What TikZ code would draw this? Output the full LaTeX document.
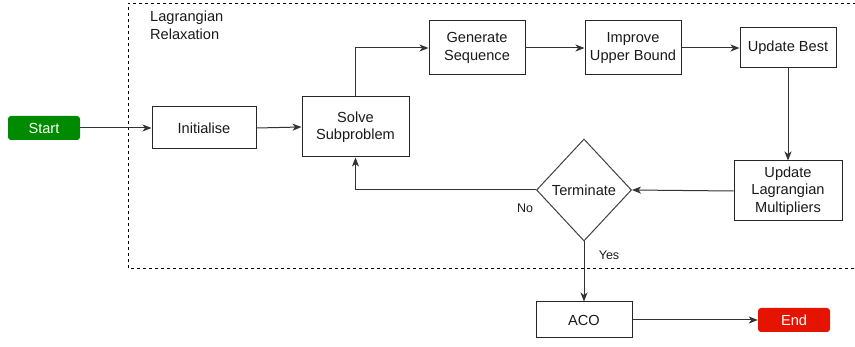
\documentclass[tikz,border=0pt]{standalone}
\usepackage{fontspec}
\setmainfont{Liberation Sans}
\usetikzlibrary{arrows.meta,shapes.geometric}
\definecolor{startgreen}{HTML}{008A00}
\definecolor{endred}{HTML}{E51400}
\definecolor{txt}{HTML}{1A1A1A}
\begin{document}
\begin{tikzpicture}[x=1pt,y=-1pt,
  every node/.style={font=\fontsize{14.6}{17.5}\selectfont, text=txt, align=center, inner sep=0pt},
  box/.style={draw=black!85, line width=1pt, rectangle, fill=white},
  term/.style={rectangle, rounded corners=3pt, draw=none, text=white},
  conn/.style={draw=black!80, line width=1pt, -{Stealth[length=9pt,width=7pt,inset=2.5pt]}},
  lbl/.style={font=\fontsize{12.5}{15}\selectfont},
  ml/.style={text depth=0pt, yshift=0pt}
]
\useasboundingbox (0,0) rectangle (855,347);
% dashed region
\draw[line width=0.9pt, dash pattern=on 3pt off 3pt] (856,3) -- (128,3) -- (128,268) -- (856,268);
\node[align=left, anchor=north west] (lr) at (150,11) {Lagrangian\\Relaxation};

\node[term, fill=startgreen, minimum width=72pt, minimum height=24pt] (start) at (44,128) {Start};
\node[box, minimum width=104pt, minimum height=42pt] (init) at (204,128) {Initialise};
\node[box, minimum width=107pt, minimum height=60pt] (solve) at (355.5,127) {Solve\\Subproblem};
\node[box, minimum width=96pt, minimum height=54pt] (gen) at (477,48) {Generate\\Sequence};
\node[box, minimum width=96pt, minimum height=54pt] (imp) at (633,48) {Improve\\Upper Bound};
\node[box, minimum width=96pt, minimum height=40pt] (best) at (788,48) {Update Best};
\node[box, minimum width=108pt, minimum height=60pt] (ulm) at (788,191) {Update\\Lagrangian\\Multipliers};
\node[draw=black!75, line width=1pt, diamond, minimum width=95pt, minimum height=102pt, aspect=0.93] (termn) at (584,190) {};
\node (termtxt) at (584,190) {Terminate};
\node[box, minimum width=96pt, minimum height=36pt] (aco) at (584,320) {ACO};
\node[term, fill=endred, minimum width=72pt, minimum height=24pt] (end) at (794,320) {End};

\node[lbl] (no) at (525,208) {No};
\node[lbl] (yes) at (609,255) {Yes};

\draw[conn] (start.east) -- (init.west);
\draw[conn] (init.east) -- (solve.west);
\draw[conn] (solve.north) |- (gen.west);
\draw[conn] (gen.east) -- (imp.west);
\draw[conn] (imp.east) -- (best.west);
\draw[conn] (best.south) -- (ulm.north);
\draw[conn] (ulm.west) -- (termn.east);
\draw[conn] (termn.west) -| (solve.south);
\draw[conn] (termn.south) -- (aco.north);
\draw[conn] (aco.east) -- (end.west);
\end{tikzpicture}
\end{document}
